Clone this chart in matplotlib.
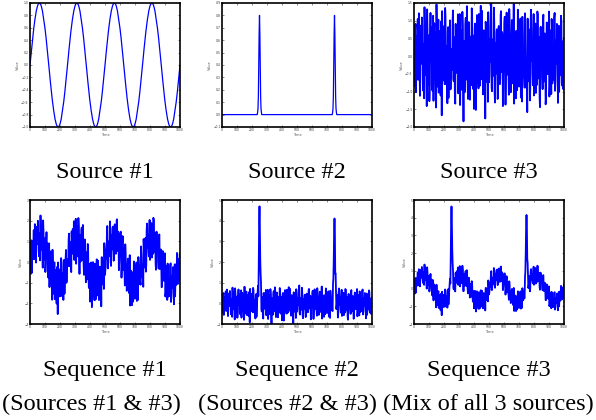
import matplotlib
matplotlib.use('Agg')
import matplotlib.pyplot as plt
import numpy as np

# time axis (samples every 2.5 time units)
time = np.arange(0, 1000.1, 2.5)

# one period of source #1 (100 samples)
sine_cycle = [
    0.0, 0.06, 0.13, 0.19, 0.25, 0.31, 0.37, 0.43, 0.48, 0.54,
    0.59, 0.64, 0.68, 0.73, 0.77, 0.81, 0.84, 0.88, 0.90, 0.93,
    0.95, 0.97, 0.98, 0.99, 1.0, 1.0, 1.0, 0.99, 0.98, 0.97,
    0.95, 0.93, 0.90, 0.88, 0.84, 0.81, 0.77, 0.73, 0.68, 0.64,
    0.59, 0.54, 0.48, 0.43, 0.37, 0.31, 0.25, 0.19, 0.13, 0.06,
    0.0, -0.06, -0.13, -0.19, -0.25, -0.31, -0.37, -0.43, -0.48, -0.54,
    -0.59, -0.64, -0.68, -0.73, -0.77, -0.81, -0.84, -0.88, -0.90, -0.93,
    -0.95, -0.97, -0.98, -0.99, -1.0, -1.0, -1.0, -0.99, -0.98, -0.97,
    -0.95, -0.93, -0.90, -0.88, -0.84, -0.81, -0.77, -0.73, -0.68, -0.64,
    -0.59, -0.54, -0.48, -0.43, -0.37, -0.31, -0.25, -0.19, -0.13, -0.06]
n_cycles = 4

# source #2: flat baseline with two narrow pulses
spike_centers = [250, 750]
spike_shape = [0.0, 0.02, 0.05, 0.15, 0.4, 0.65, 0.8, 0.65, 0.4, 0.15, 0.05, 0.02, 0.0]

# source #3: noise values at t = 0, 5, 10, ...
noise_a = [
    0.42, -0.85, 0.91, 0.12, -0.44, 1.05, -0.63, 0.28, -1.12, 0.67,
    -0.21, 0.83, -0.97, 0.35, 1.38, -0.52, 0.04, -1.41, 0.76, -0.18,
    0.59, -0.73, 1.22, -0.09, -0.88, 0.47, -1.26, 0.93, 0.15, -0.61,
    1.46, -0.34, 0.22, -1.03, 0.71, -0.47, 0.98, -1.67, 0.31, 0.84,
    -0.26, -0.79, 1.13, 0.06, -0.58, 0.69, -1.18, 0.38, 1.01, -0.92,
    0.17, -0.39, 1.29, -0.71, 0.53, -1.34, 0.25, 0.88, -0.14, -1.05,
    0.64, 1.19, -0.48, 0.09, -0.95, 0.77, -1.84, 0.43, -0.23, 1.08,
    -0.66, 0.32, -1.21, 0.96, -0.03, 0.55, -0.82, 1.35, -0.37, 0.19,
    -1.49, 0.81, 0.27, -0.69, 1.16, -0.12, -0.91, 0.62, -0.29, 1.42,
    -0.57, 0.05, -1.08, 0.73, 0.36, -1.76, 0.89, -0.41, 0.13, 1.24,
    -0.74, 0.48, -0.16, 1.57, -0.99, 0.21, -0.55, 0.94, -1.31, 0.37,
    0.68, -0.24, -1.15, 0.85, 0.11, -0.62, 1.27, -0.45, 0.58, -0.89,
    0.26, 1.11, -1.37, 0.44, -0.07, 0.79, -0.68, 1.33, -0.31, -1.02,
    0.52, 0.14, -0.77, 1.48, -0.53, 0.33, -1.19, 0.71, -0.11, 0.97,
    -0.86, 0.24, 1.06, -0.43, -1.28, 0.61, 0.02, -0.64, 1.21, -0.35,
    -0.90, -1.58, 0.41, -0.19, 0.75, -0.93, 1.31, 0.08, -0.51, 0.66,
    -1.11, 0.29, 0.92, -0.38, -0.81, 1.17, -0.27, 0.54, -1.44, 0.83,
    0.18, -0.59, 1.03, -0.72, 0.39, -0.06, -1.23, 0.95, 0.23, -0.46,
    1.26, -0.84, 0.12, -1.07, 0.74, 0.31, -0.67, 1.09, -0.98, 0.46,
    -0.22, 0.63, -1.32, 0.86, 0.01, -0.54, 1.14, -0.76, 0.35, -0.93,
    0.5]

# source #3: noise values at t = 2.5, 7.5, 12.5, ...
noise_b = [
    -0.31, 0.74, -1.02, 0.55, 0.18, -0.67, 1.21, -0.42, 0.86, -0.15,
    1.09, -0.58, 0.27, -1.19, 0.63, 0.94, -0.36, 1.32, -0.81, 0.07,
    -1.27, 0.45, -0.12, 0.81, -0.97, 1.14, 0.22, -0.53, 0.68, -1.45,
    0.39, -0.86, 1.03, -0.24, 0.57, -1.11, 0.16, 1.27, -0.69, 0.48,
    -0.05, 1.36, -0.78, 0.29, -1.33, 0.82, -0.19, 0.61, -0.94, 0.20,
    -0.25, 1.02, -0.63, 0.37, -1.16, 0.91, -0.47, 0.14, 1.18, -0.83,
    0.56, -1.38, 0.73, -0.08, 1.25, -0.61, 0.32, -1.02, 0.87, -0.29,
    1.41, -0.74, 0.11, 0.66, -1.23, 0.44, -0.35, 1.07, -0.92, 0.58,
    -0.17, 0.92, -1.52, 0.35, 0.79, -0.46, 1.19, -0.84, 0.03, -0.65,
    1.28, -0.39, 0.61, -1.07, 0.24, 0.97, -0.72, 0.43, -1.29, 0.83,
    -0.54, 0.19, 1.12, -0.88, 0.47, -0.21, 1.37, -1.03, 0.28, -0.49,
    0.76, -1.21, 0.54, 0.09, -0.79, 1.15, -0.32, 0.68, -1.41, 0.38,
    0.95, -0.27, -0.66, 1.23, -0.52, 0.14, -1.09, 0.87, 0.31, -0.75,
    1.02, -0.43, 0.23, -1.34, 0.71, -0.08, 0.59, -0.96, 1.31, -0.22,
    -0.61, 0.84, -1.17, 0.36, 1.11, -0.57, 0.18, -0.89, 0.62, -0.30,
    -0.45, 1.06, -0.71, 0.27, -1.25, 0.93, -0.14, 0.49, -0.82, 1.19,
    -0.36, 0.67, -1.04, 0.15, 1.26, -0.63, 0.41, -1.18, 0.78, -0.09,
    0.52, -0.93, 1.17, -0.28, 0.64, -1.36, 0.07, 0.89, -0.51, 0.34,
    -1.14, 0.73, -0.19, 1.05, -0.77, 0.26, -0.45, 1.22, -0.68, 0.13,
    0.91, -0.58, 0.32, -1.01, 0.69, -0.24, 0.99, -0.83, 0.42, -0.16]

# mixing weights (source #1, source #2, source #3) for each sequence
mix_seq1 = [1.1, 0.0, 0.85]
mix_seq2 = [0.0, 5.75, 0.55]
mix_seq3 = [0.75, 5.7, 0.45]

titles = ['Source #1', 'Source #2', 'Source #3',
          'Sequence #1', 'Sequence #2', 'Sequence #3']
subtitles = ['(Sources #1 & #3)', '(Sources #2 & #3)', '(Mix of all 3 sources)']
ylims = [(-1, 1), (-0.1, 0.9), (-2, 1.5), (-3, 3), (-1, 5), (-2, 5)]
ysteps = [0.2, 0.1, 0.5, 1, 1, 1]
line_widths = [0.9, 0.9, 1.3, 1.3, 1.3, 1.3]

# build the source signals
source1 = np.array(sine_cycle * n_cycles + [sine_cycle[0]])
source2 = np.zeros(len(time))
half = len(spike_shape) // 2
for c in spike_centers:
    i = int(np.searchsorted(time, c))
    source2[i - half:i + half + 1] = spike_shape
source3 = np.empty(len(time))
source3[0::2] = noise_a
source3[1::2] = noise_b
sources = np.vstack([source1, source2, source3])

seq1 = np.dot(mix_seq1, sources)
seq2 = np.dot(mix_seq2, sources)
seq3 = np.dot(mix_seq3, sources)
signals = [source1, source2, source3, seq1, seq2, seq3]

fig = plt.figure(figsize=(5.96, 4.20), dpi=100)
W, H = 596.0, 420.0
lefts = [30, 222, 414]
tops = [3, 200]
aw, ah = 150, 124

for k, sig in enumerate(signals):
    row, col = divmod(k, 3)
    ax = fig.add_axes([lefts[col] / W, 1 - (tops[row] + ah) / H, aw / W, ah / H])
    ax.plot(time, sig, color='#0000ff', lw=line_widths[k])
    ax.set_xlim(0, 1000)
    lo, hi = ylims[k]
    ax.set_ylim(lo, hi)
    ax.set_xticks(np.arange(0, 1001, 100))
    ax.set_yticks(np.arange(lo, hi + 1e-9, ysteps[k]))
    ax.tick_params(direction='in', length=1.5, width=0.4, labelsize=2.2,
                   top=True, right=True, pad=1, colors='#333333')
    ax.set_xlabel('Time', fontsize=2.5, labelpad=0.5, color='#555555')
    ax.set_ylabel('Value', fontsize=2.5, labelpad=1, color='#555555')
    for s in ax.spines.values():
        s.set_linewidth(1.2)

    cx = (lefts[col] + aw / 2) / W
    if row == 0:
        fig.text(cx, 1 - 178 / H, titles[k], ha='center', va='baseline',
                 family='Liberation Serif', fontsize=17.5)
    else:
        fig.text(cx, 1 - 376 / H, titles[k], ha='center', va='baseline',
                 family='Liberation Serif', fontsize=17.5)

for col, sub in enumerate(subtitles):
    cx = [91, 287, 488][col] / W
    fig.text(cx, 1 - 410 / H, sub, ha='center', va='baseline',
             family='Liberation Serif', fontsize=17.5)

fig.savefig('out.png', dpi=100)
